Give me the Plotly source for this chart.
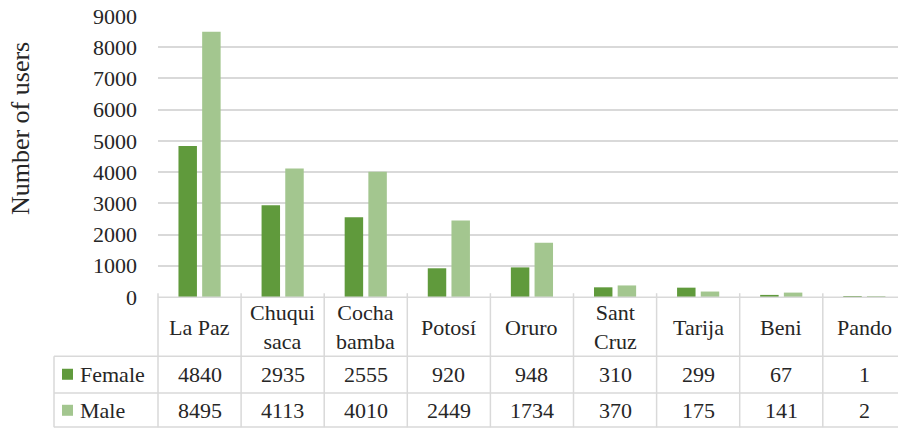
import plotly.graph_objects as go

categories = ["La Paz", "Chuqui<br>saca", "Cocha<br>bamba", "Potosí", "Oruro",
              "Sant<br>Cruz", "Tarija", "Beni", "Pando"]
female = [4840, 2935, 2555, 920, 948, 310, 299, 67, 1]
male = [8495, 4113, 4010, 2449, 1734, 370, 175, 141, 2]
series_names = ["Female", "Male"]
y_ticks = [0, 1000, 2000, 3000, 4000, 5000, 6000, 7000, 8000, 9000]

W, H = 898, 428
L, R, T, B0 = 158, 0, 16, 296.8  # plot left, right margin, top, bottom (px)
PH = B0 - T
PW = W - L - R

C_F = "#609a3c"
C_M = "#a3c68f"
GRID = "#d9d9d9"
TXT = "#262626"
FONT = "Liberation Serif"

def py(p):
    return (B0 - p) / PH

def px(p):
    return (p - L) / PW

def tf(size=22):
    return dict(family=FONT, size=size, color=TXT)

x_idx = list(range(len(categories)))

fig = go.Figure()
fig.add_trace(go.Bar(x=x_idx, y=female, name=series_names[0], marker_color=C_F,
                     marker_line_width=0))
fig.add_trace(go.Bar(x=x_idx, y=male, name=series_names[1], marker_color=C_M,
                     marker_line_width=0))

shapes = []
ann = []
line = dict(color=GRID, width=1.5)

# horizontal table lines
shapes.append(dict(type="line", xref="paper", yref="paper", x0=0, x1=1,
                   y0=py(297), y1=py(297), line=line))
for yy in [356, 392.7, 426.7]:
    shapes.append(dict(type="line", xref="paper", yref="paper", x0=px(54), x1=1,
                       y0=py(yy), y1=py(yy), line=line))
# vertical table lines
shapes.append(dict(type="line", xref="paper", yref="paper", x0=0, x1=0,
                   y0=py(293), y1=py(427), line=line))
shapes.append(dict(type="line", xref="paper", yref="paper", x0=px(54), x1=px(54),
                   y0=py(356), y1=py(427), line=line))
for i in range(1, len(categories)):
    shapes.append(dict(type="line", xref="x", yref="paper", x0=i - 0.5, x1=i - 0.5,
                       y0=py(293), y1=py(427), line=line))

for i, c in enumerate(categories):
    ann.append(dict(x=i, y=py(327), xref="x", yref="paper", text=c, showarrow=False,
                    font=tf(), xanchor="center", yanchor="middle"))
    ann.append(dict(x=i, y=py(374), xref="x", yref="paper", text=str(female[i]),
                    showarrow=False, font=tf(), xanchor="center", yanchor="middle"))
    ann.append(dict(x=i, y=py(410), xref="x", yref="paper", text=str(male[i]),
                    showarrow=False, font=tf(), xanchor="center", yanchor="middle"))

for name, col, yc in [(series_names[0], C_F, 374), (series_names[1], C_M, 410)]:
    shapes.append(dict(type="rect", xref="paper", yref="paper", x0=px(62), x1=px(73),
                       y0=py(yc - 5.5), y1=py(yc + 5.5), fillcolor=col, line_width=0))
    ann.append(dict(x=px(78), y=py(yc), xref="paper", yref="paper", text=name,
                    showarrow=False, font=tf(), xanchor="left", yanchor="middle"))

ann.append(dict(x=px(20), y=py(129), xref="paper", yref="paper", text="Number of users",
                textangle=-90, showarrow=False, xanchor="center", yanchor="middle",
                font=tf(26)))

fig.update_layout(
    width=W, height=H,
    margin=dict(l=L, r=R, t=T, b=H - B0, pad=0),
    paper_bgcolor="white", plot_bgcolor="white",
    font=tf(),
    barmode="group", bargap=0.43, bargroupgap=0.22,
    showlegend=False,
    shapes=shapes, annotations=ann,
    xaxis=dict(range=[-0.5, -0.5 + PW / 83.1], showticklabels=False, showgrid=False,
               zeroline=False, showline=False, ticks=""),
    yaxis=dict(range=[0, 9000], tickvals=y_ticks, showgrid=True, gridcolor=GRID,
               gridwidth=1.5, zeroline=False, showline=False, ticks="",
               ticklabelstandoff=20, tickfont=tf()),
)

fig.write_html("out.html")
